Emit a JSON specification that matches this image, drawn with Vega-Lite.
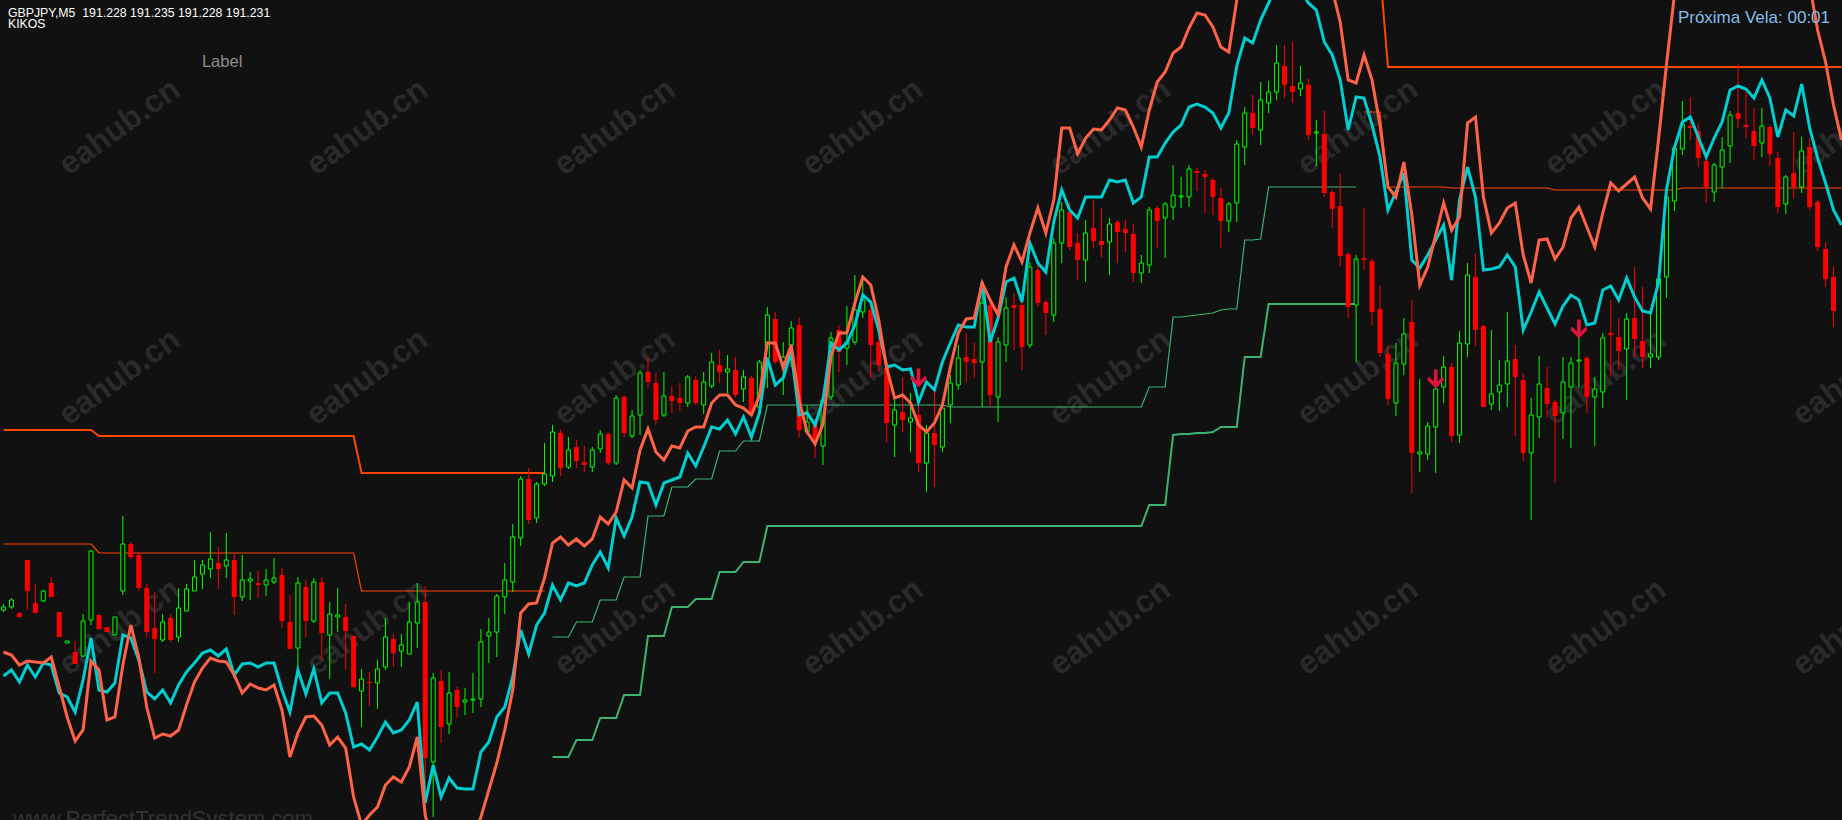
{
"$schema": "https://vega.github.io/schema/vega-lite/v6.json",
"width": 1842, "height": 820,
"autosize": {"type": "none"},
"padding": 0,
"background": "#111111",
"config": {"view": {"stroke": null}},
"datasets": {
"bars": [
{"i":-1,"o":191.390,"h":191.396,"l":191.388,"c":191.393,"cy":191.324,"sa":191.348,"a1":191.570,"b1":191.456},
{"i":0,"o":191.393,"h":191.402,"l":191.391,"c":191.400,"cy":191.330,"sa":191.345,"a1":191.570,"b1":191.456},
{"i":1,"o":191.387,"h":191.388,"l":191.382,"c":191.383,"cy":191.318,"sa":191.335,"a1":191.570,"b1":191.456},
{"i":2,"o":191.440,"h":191.440,"l":191.390,"c":191.409,"cy":191.335,"sa":191.339,"a1":191.570,"b1":191.456},
{"i":3,"o":191.397,"h":191.416,"l":191.387,"c":191.387,"cy":191.323,"sa":191.338,"a1":191.570,"b1":191.456},
{"i":4,"o":191.399,"h":191.410,"l":191.398,"c":191.409,"cy":191.337,"sa":191.337,"a1":191.570,"b1":191.456},
{"i":5,"o":191.417,"h":191.423,"l":191.403,"c":191.403,"cy":191.335,"sa":191.343,"a1":191.570,"b1":191.456},
{"i":6,"o":191.388,"h":191.388,"l":191.363,"c":191.363,"cy":191.307,"sa":191.313,"a1":191.570,"b1":191.456},
{"i":7,"o":191.357,"h":191.359,"l":191.357,"c":191.359,"cy":191.303,"sa":191.283,"a1":191.570,"b1":191.456},
{"i":8,"o":191.348,"h":191.359,"l":191.336,"c":191.336,"cy":191.288,"sa":191.259,"a1":191.570,"b1":191.456},
{"i":9,"o":191.344,"h":191.386,"l":191.343,"c":191.379,"cy":191.320,"sa":191.270,"a1":191.570,"b1":191.456},
{"i":10,"o":191.380,"h":191.450,"l":191.375,"c":191.449,"cy":191.362,"sa":191.339,"a1":191.570,"b1":191.456},
{"i":11,"o":191.385,"h":191.386,"l":191.370,"c":191.371,"cy":191.310,"sa":191.330,"a1":191.564,"b1":191.447},
{"i":12,"o":191.373,"h":191.373,"l":191.368,"c":191.368,"cy":191.308,"sa":191.280,"a1":191.564,"b1":191.447},
{"i":13,"o":191.365,"h":191.383,"l":191.365,"c":191.383,"cy":191.317,"sa":191.283,"a1":191.564,"b1":191.447},
{"i":14,"o":191.409,"h":191.484,"l":191.405,"c":191.456,"cy":191.365,"sa":191.335,"a1":191.564,"b1":191.447},
{"i":15,"o":191.456,"h":191.458,"l":191.441,"c":191.443,"cy":191.362,"sa":191.375,"a1":191.564,"b1":191.447},
{"i":16,"o":191.445,"h":191.448,"l":191.409,"c":191.412,"cy":191.340,"sa":191.343,"a1":191.564,"b1":191.447},
{"i":17,"o":191.412,"h":191.416,"l":191.363,"c":191.368,"cy":191.308,"sa":191.293,"a1":191.564,"b1":191.447},
{"i":18,"o":191.372,"h":191.408,"l":191.327,"c":191.361,"cy":191.301,"sa":191.262,"a1":191.564,"b1":191.447},
{"i":19,"o":191.360,"h":191.386,"l":191.358,"c":191.378,"cy":191.310,"sa":191.266,"a1":191.564,"b1":191.447},
{"i":20,"o":191.382,"h":191.386,"l":191.358,"c":191.360,"cy":191.297,"sa":191.264,"a1":191.564,"b1":191.447},
{"i":21,"o":191.363,"h":191.412,"l":191.358,"c":191.392,"cy":191.315,"sa":191.270,"a1":191.564,"b1":191.447},
{"i":22,"o":191.389,"h":191.416,"l":191.389,"c":191.411,"cy":191.328,"sa":191.295,"a1":191.564,"b1":191.447},
{"i":23,"o":191.409,"h":191.440,"l":191.409,"c":191.423,"cy":191.337,"sa":191.318,"a1":191.564,"b1":191.447},
{"i":24,"o":191.426,"h":191.440,"l":191.411,"c":191.435,"cy":191.347,"sa":191.332,"a1":191.564,"b1":191.447},
{"i":25,"o":191.431,"h":191.468,"l":191.422,"c":191.441,"cy":191.350,"sa":191.342,"a1":191.564,"b1":191.447},
{"i":26,"o":191.437,"h":191.453,"l":191.411,"c":191.431,"cy":191.344,"sa":191.339,"a1":191.564,"b1":191.447},
{"i":27,"o":191.434,"h":191.467,"l":191.422,"c":191.440,"cy":191.351,"sa":191.338,"a1":191.564,"b1":191.447},
{"i":28,"o":191.440,"h":191.446,"l":191.385,"c":191.403,"cy":191.325,"sa":191.325,"a1":191.564,"b1":191.447},
{"i":29,"o":191.403,"h":191.445,"l":191.399,"c":191.420,"cy":191.336,"sa":191.307,"a1":191.564,"b1":191.447},
{"i":30,"o":191.419,"h":191.428,"l":191.400,"c":191.421,"cy":191.337,"sa":191.316,"a1":191.564,"b1":191.447},
{"i":31,"o":191.417,"h":191.429,"l":191.402,"c":191.415,"cy":191.333,"sa":191.312,"a1":191.564,"b1":191.447},
{"i":32,"o":191.415,"h":191.431,"l":191.404,"c":191.420,"cy":191.337,"sa":191.310,"a1":191.564,"b1":191.447},
{"i":33,"o":191.418,"h":191.442,"l":191.416,"c":191.422,"cy":191.337,"sa":191.315,"a1":191.564,"b1":191.447},
{"i":34,"o":191.425,"h":191.432,"l":191.372,"c":191.379,"cy":191.310,"sa":191.290,"a1":191.564,"b1":191.447},
{"i":35,"o":191.378,"h":191.405,"l":191.351,"c":191.351,"cy":191.288,"sa":191.243,"a1":191.564,"b1":191.447},
{"i":36,"o":191.352,"h":191.423,"l":191.333,"c":191.417,"cy":191.330,"sa":191.267,"a1":191.564,"b1":191.447},
{"i":37,"o":191.413,"h":191.420,"l":191.363,"c":191.379,"cy":191.306,"sa":191.283,"a1":191.564,"b1":191.447},
{"i":38,"o":191.379,"h":191.422,"l":191.377,"c":191.418,"cy":191.331,"sa":191.284,"a1":191.564,"b1":191.447},
{"i":39,"o":191.418,"h":191.423,"l":191.340,"c":191.367,"cy":191.297,"sa":191.275,"a1":191.564,"b1":191.447},
{"i":40,"o":191.365,"h":191.398,"l":191.321,"c":191.386,"cy":191.307,"sa":191.255,"a1":191.564,"b1":191.447},
{"i":41,"o":191.383,"h":191.412,"l":191.368,"c":191.385,"cy":191.307,"sa":191.263,"a1":191.564,"b1":191.447},
{"i":42,"o":191.383,"h":191.396,"l":191.330,"c":191.369,"cy":191.287,"sa":191.252,"a1":191.564,"b1":191.447},
{"i":43,"o":191.364,"h":191.365,"l":191.312,"c":191.313,"cy":191.253,"sa":191.203,"a1":191.564,"b1":191.447},
{"i":44,"o":191.309,"h":191.331,"l":191.273,"c":191.321,"cy":191.256,"sa":191.175,"a1":191.527,"b1":191.409},
{"i":45,"o":191.318,"h":191.328,"l":191.294,"c":191.317,"cy":191.250,"sa":191.185,"a1":191.527,"b1":191.409},
{"i":46,"o":191.317,"h":191.340,"l":191.291,"c":191.331,"cy":191.263,"sa":191.193,"a1":191.527,"b1":191.409},
{"i":47,"o":191.333,"h":191.382,"l":191.330,"c":191.363,"cy":191.278,"sa":191.215,"a1":191.527,"b1":191.409},
{"i":48,"o":191.361,"h":191.366,"l":191.333,"c":191.347,"cy":191.267,"sa":191.223,"a1":191.527,"b1":191.409},
{"i":49,"o":191.349,"h":191.366,"l":191.333,"c":191.355,"cy":191.270,"sa":191.218,"a1":191.527,"b1":191.409},
{"i":50,"o":191.346,"h":191.398,"l":191.346,"c":191.378,"cy":191.280,"sa":191.233,"a1":191.527,"b1":191.409},
{"i":51,"o":191.377,"h":191.417,"l":191.352,"c":191.398,"cy":191.298,"sa":191.263,"a1":191.527,"b1":191.409},
{"i":52,"o":191.398,"h":191.414,"l":191.203,"c":191.242,"cy":191.197,"sa":191.185,"a1":191.527,"b1":191.409},
{"i":53,"o":191.238,"h":191.327,"l":191.183,"c":191.322,"cy":191.235,"sa":191.155,"a1":191.527,"b1":191.409},
{"i":54,"o":191.319,"h":191.330,"l":191.257,"c":191.273,"cy":191.203,"sa":191.120,"a1":191.527,"b1":191.409},
{"i":55,"o":191.276,"h":191.328,"l":191.266,"c":191.307,"cy":191.222,"sa":191.110,"a1":191.527,"b1":191.409},
{"i":56,"o":191.310,"h":191.313,"l":191.283,"c":191.293,"cy":191.212,"sa":191.120,"a1":191.527,"b1":191.409},
{"i":57,"o":191.298,"h":191.312,"l":191.285,"c":191.300,"cy":191.211,"sa":191.135,"a1":191.527,"b1":191.409},
{"i":58,"o":191.300,"h":191.327,"l":191.287,"c":191.301,"cy":191.211,"sa":191.160,"a1":191.527,"b1":191.409},
{"i":59,"o":191.301,"h":191.371,"l":191.293,"c":191.358,"cy":191.248,"sa":191.183,"a1":191.527,"b1":191.409},
{"i":60,"o":191.364,"h":191.382,"l":191.337,"c":191.368,"cy":191.258,"sa":191.210,"a1":191.527,"b1":191.409},
{"i":61,"o":191.368,"h":191.406,"l":191.343,"c":191.404,"cy":191.283,"sa":191.237,"a1":191.527,"b1":191.409},
{"i":62,"o":191.403,"h":191.437,"l":191.386,"c":191.420,"cy":191.293,"sa":191.270,"a1":191.527,"b1":191.409},
{"i":63,"o":191.418,"h":191.476,"l":191.408,"c":191.463,"cy":191.323,"sa":191.310,"a1":191.527,"b1":191.409},
{"i":64,"o":191.462,"h":191.524,"l":191.454,"c":191.521,"cy":191.370,"sa":191.387,"a1":191.527,"b1":191.409},
{"i":65,"o":191.521,"h":191.532,"l":191.476,"c":191.480,"cy":191.346,"sa":191.396,"a1":191.527,"b1":191.409},
{"i":66,"o":191.482,"h":191.518,"l":191.477,"c":191.516,"cy":191.375,"sa":191.397,"a1":191.527,"b1":191.409},
{"i":67,"o":191.516,"h":191.557,"l":191.514,"c":191.526,"cy":191.387,"sa":191.422,"a1":191.527,"b1":191.409},
{"i":68,"o":191.524,"h":191.575,"l":191.518,"c":191.568,"cy":191.415,"sa":191.457,"gt":191.363,"gk":191.243},
{"i":69,"o":191.567,"h":191.571,"l":191.524,"c":191.532,"cy":191.400,"sa":191.463,"gt":191.363,"gk":191.243},
{"i":70,"o":191.533,"h":191.563,"l":191.531,"c":191.550,"cy":191.417,"sa":191.455,"gt":191.363,"gk":191.243},
{"i":71,"o":191.553,"h":191.560,"l":191.532,"c":191.539,"cy":191.414,"sa":191.461,"gt":191.378,"gk":191.260},
{"i":72,"o":191.538,"h":191.554,"l":191.528,"c":191.535,"cy":191.417,"sa":191.454,"gt":191.378,"gk":191.260},
{"i":73,"o":191.533,"h":191.553,"l":191.528,"c":191.550,"cy":191.435,"sa":191.461,"gt":191.378,"gk":191.260},
{"i":74,"o":191.551,"h":191.570,"l":191.547,"c":191.566,"cy":191.448,"sa":191.483,"gt":191.400,"gk":191.282},
{"i":75,"o":191.566,"h":191.568,"l":191.535,"c":191.537,"cy":191.432,"sa":191.476,"gt":191.400,"gk":191.282},
{"i":76,"o":191.537,"h":191.605,"l":191.535,"c":191.602,"cy":191.482,"sa":191.488,"gt":191.400,"gk":191.282},
{"i":77,"o":191.603,"h":191.605,"l":191.563,"c":191.567,"cy":191.464,"sa":191.520,"gt":191.423,"gk":191.305},
{"i":78,"o":191.564,"h":191.590,"l":191.562,"c":191.584,"cy":191.483,"sa":191.512,"gt":191.423,"gk":191.305},
{"i":79,"o":191.585,"h":191.630,"l":191.565,"c":191.627,"cy":191.518,"sa":191.550,"gt":191.423,"gk":191.305},
{"i":80,"o":191.628,"h":191.643,"l":191.612,"c":191.618,"cy":191.517,"sa":191.571,"gt":191.484,"gk":191.364},
{"i":81,"o":191.617,"h":191.627,"l":191.575,"c":191.580,"cy":191.495,"sa":191.548,"gt":191.484,"gk":191.364},
{"i":82,"o":191.585,"h":191.628,"l":191.583,"c":191.604,"cy":191.517,"sa":191.540,"gt":191.484,"gk":191.364},
{"i":83,"o":191.604,"h":191.614,"l":191.587,"c":191.599,"cy":191.520,"sa":191.554,"gt":191.513,"gk":191.393},
{"i":84,"o":191.602,"h":191.617,"l":191.589,"c":191.597,"cy":191.523,"sa":191.552,"gt":191.513,"gk":191.393},
{"i":85,"o":191.597,"h":191.625,"l":191.593,"c":191.623,"cy":191.547,"sa":191.569,"gt":191.513,"gk":191.393},
{"i":86,"o":191.620,"h":191.624,"l":191.595,"c":191.597,"cy":191.534,"sa":191.573,"gt":191.521,"gk":191.401},
{"i":87,"o":191.595,"h":191.628,"l":191.586,"c":191.618,"cy":191.553,"sa":191.573,"gt":191.521,"gk":191.401},
{"i":88,"o":191.614,"h":191.647,"l":191.612,"c":191.638,"cy":191.573,"sa":191.597,"gt":191.521,"gk":191.401},
{"i":89,"o":191.635,"h":191.650,"l":191.617,"c":191.628,"cy":191.571,"sa":191.605,"gt":191.549,"gk":191.428},
{"i":90,"o":191.628,"h":191.645,"l":191.607,"c":191.631,"cy":191.580,"sa":191.605,"gt":191.549,"gk":191.428},
{"i":91,"o":191.630,"h":191.643,"l":191.603,"c":191.605,"cy":191.566,"sa":191.595,"gt":191.549,"gk":191.428},
{"i":92,"o":191.611,"h":191.630,"l":191.598,"c":191.623,"cy":191.583,"sa":191.592,"gt":191.559,"gk":191.438},
{"i":93,"o":191.622,"h":191.624,"l":191.586,"c":191.588,"cy":191.563,"sa":191.585,"gt":191.559,"gk":191.438},
{"i":94,"o":191.593,"h":191.640,"l":191.590,"c":191.638,"cy":191.587,"sa":191.604,"gt":191.559,"gk":191.438},
{"i":95,"o":191.642,"h":191.693,"l":191.612,"c":191.685,"cy":191.642,"sa":191.657,"gt":191.595,"gk":191.474},
{"i":96,"o":191.681,"h":191.688,"l":191.636,"c":191.638,"cy":191.615,"sa":191.657,"gt":191.595,"gk":191.474},
{"i":97,"o":191.638,"h":191.658,"l":191.605,"c":191.643,"cy":191.622,"sa":191.632,"gt":191.595,"gk":191.474},
{"i":98,"o":191.655,"h":191.679,"l":191.633,"c":191.672,"cy":191.648,"sa":191.655,"gt":191.595,"gk":191.474},
{"i":99,"o":191.675,"h":191.683,"l":191.563,"c":191.570,"cy":191.585,"sa":191.600,"gt":191.595,"gk":191.474},
{"i":100,"o":191.568,"h":191.595,"l":191.565,"c":191.578,"cy":191.587,"sa":191.568,"gt":191.595,"gk":191.474},
{"i":101,"o":191.578,"h":191.582,"l":191.542,"c":191.560,"cy":191.575,"sa":191.556,"gt":191.595,"gk":191.474},
{"i":102,"o":191.554,"h":191.605,"l":191.535,"c":191.600,"cy":191.600,"sa":191.576,"gt":191.595,"gk":191.474},
{"i":103,"o":191.603,"h":191.668,"l":191.600,"c":191.662,"cy":191.657,"sa":191.644,"gt":191.595,"gk":191.474},
{"i":104,"o":191.670,"h":191.675,"l":191.628,"c":191.648,"cy":191.650,"sa":191.667,"gt":191.595,"gk":191.474},
{"i":105,"o":191.652,"h":191.694,"l":191.635,"c":191.658,"cy":191.657,"sa":191.667,"gt":191.595,"gk":191.474},
{"i":106,"o":191.658,"h":191.725,"l":191.655,"c":191.690,"cy":191.675,"sa":191.697,"gt":191.595,"gk":191.474},
{"i":107,"o":191.688,"h":191.722,"l":191.682,"c":191.700,"cy":191.705,"sa":191.723,"gt":191.595,"gk":191.474},
{"i":108,"o":191.690,"h":191.700,"l":191.622,"c":191.655,"cy":191.698,"sa":191.715,"gt":191.595,"gk":191.474},
{"i":109,"o":191.658,"h":191.665,"l":191.628,"c":191.635,"cy":191.670,"sa":191.680,"gt":191.595,"gk":191.474},
{"i":110,"o":191.632,"h":191.638,"l":191.557,"c":191.577,"cy":191.633,"sa":191.632,"gt":191.595,"gk":191.474},
{"i":111,"o":191.575,"h":191.600,"l":191.543,"c":191.590,"cy":191.635,"sa":191.602,"gt":191.595,"gk":191.474},
{"i":112,"o":191.588,"h":191.623,"l":191.568,"c":191.580,"cy":191.630,"sa":191.605,"gt":191.595,"gk":191.474},
{"i":113,"o":191.578,"h":191.607,"l":191.548,"c":191.582,"cy":191.631,"sa":191.597,"gt":191.595,"gk":191.474},
{"i":114,"o":191.585,"h":191.595,"l":191.528,"c":191.537,"cy":191.598,"sa":191.575,"gt":191.595,"gk":191.474},
{"i":115,"o":191.537,"h":191.575,"l":191.508,"c":191.567,"cy":191.618,"sa":191.568,"gt":191.595,"gk":191.474},
{"i":116,"o":191.567,"h":191.608,"l":191.513,"c":191.555,"cy":191.610,"sa":191.577,"gt":191.595,"gk":191.474},
{"i":117,"o":191.553,"h":191.600,"l":191.548,"c":191.592,"cy":191.638,"sa":191.595,"gt":191.595,"gk":191.474},
{"i":118,"o":191.595,"h":191.625,"l":191.577,"c":191.617,"cy":191.657,"sa":191.633,"gt":191.593,"gk":191.474},
{"i":119,"o":191.615,"h":191.655,"l":191.610,"c":191.642,"cy":191.675,"sa":191.667,"gt":191.593,"gk":191.474},
{"i":120,"o":191.643,"h":191.667,"l":191.618,"c":191.638,"cy":191.673,"sa":191.681,"gt":191.593,"gk":191.474},
{"i":121,"o":191.641,"h":191.657,"l":191.622,"c":191.637,"cy":191.673,"sa":191.682,"gt":191.593,"gk":191.474},
{"i":122,"o":191.638,"h":191.718,"l":191.593,"c":191.697,"cy":191.718,"sa":191.717,"gt":191.593,"gk":191.474},
{"i":123,"o":191.695,"h":191.700,"l":191.593,"c":191.605,"cy":191.658,"sa":191.700,"gt":191.593,"gk":191.474},
{"i":124,"o":191.603,"h":191.663,"l":191.578,"c":191.658,"cy":191.682,"sa":191.685,"gt":191.593,"gk":191.474},
{"i":125,"o":191.655,"h":191.703,"l":191.638,"c":191.692,"cy":191.718,"sa":191.733,"gt":191.593,"gk":191.474},
{"i":126,"o":191.695,"h":191.707,"l":191.650,"c":191.692,"cy":191.722,"sa":191.755,"gt":191.593,"gk":191.474},
{"i":127,"o":191.695,"h":191.700,"l":191.630,"c":191.653,"cy":191.698,"sa":191.738,"gt":191.593,"gk":191.474},
{"i":128,"o":191.655,"h":191.738,"l":191.652,"c":191.733,"cy":191.757,"sa":191.767,"gt":191.593,"gk":191.474},
{"i":129,"o":191.730,"h":191.735,"l":191.693,"c":191.697,"cy":191.737,"sa":191.792,"gt":191.593,"gk":191.474},
{"i":130,"o":191.698,"h":191.700,"l":191.665,"c":191.687,"cy":191.728,"sa":191.767,"gt":191.593,"gk":191.474},
{"i":131,"o":191.685,"h":191.762,"l":191.678,"c":191.757,"cy":191.778,"sa":191.800,"gt":191.593,"gk":191.474},
{"i":132,"o":191.757,"h":191.798,"l":191.737,"c":191.790,"cy":191.810,"sa":191.872,"gt":191.593,"gk":191.474},
{"i":133,"o":191.788,"h":191.798,"l":191.750,"c":191.753,"cy":191.790,"sa":191.872,"gt":191.593,"gk":191.474},
{"i":134,"o":191.757,"h":191.767,"l":191.720,"c":191.740,"cy":191.782,"sa":191.846,"gt":191.593,"gk":191.474},
{"i":135,"o":191.740,"h":191.780,"l":191.718,"c":191.767,"cy":191.803,"sa":191.862,"gt":191.593,"gk":191.474},
{"i":136,"o":191.772,"h":191.800,"l":191.752,"c":191.759,"cy":191.803,"sa":191.871,"gt":191.593,"gk":191.474},
{"i":137,"o":191.759,"h":191.792,"l":191.743,"c":191.755,"cy":191.803,"sa":191.870,"gt":191.593,"gk":191.474},
{"i":138,"o":191.758,"h":191.782,"l":191.725,"c":191.776,"cy":191.820,"sa":191.880,"gt":191.593,"gk":191.474},
{"i":139,"o":191.778,"h":191.780,"l":191.737,"c":191.768,"cy":191.818,"sa":191.892,"gt":191.593,"gk":191.474},
{"i":140,"o":191.771,"h":191.780,"l":191.748,"c":191.767,"cy":191.820,"sa":191.890,"gt":191.593,"gk":191.474},
{"i":141,"o":191.766,"h":191.776,"l":191.718,"c":191.727,"cy":191.797,"sa":191.873,"gt":191.593,"gk":191.474},
{"i":142,"o":191.727,"h":191.745,"l":191.717,"c":191.737,"cy":191.803,"sa":191.853,"gt":191.593,"gk":191.474},
{"i":143,"o":191.735,"h":191.793,"l":191.727,"c":191.790,"cy":191.843,"sa":191.890,"gt":191.613,"gk":191.495},
{"i":144,"o":191.792,"h":191.794,"l":191.752,"c":191.779,"cy":191.843,"sa":191.918,"gt":191.613,"gk":191.495},
{"i":145,"o":191.782,"h":191.798,"l":191.742,"c":191.796,"cy":191.857,"sa":191.928,"gt":191.613,"gk":191.495},
{"i":146,"o":191.793,"h":191.835,"l":191.780,"c":191.805,"cy":191.868,"sa":191.947,"gt":191.683,"gk":191.565},
{"i":147,"o":191.803,"h":191.823,"l":191.792,"c":191.804,"cy":191.875,"sa":191.953,"gt":191.683,"gk":191.566},
{"i":148,"o":191.803,"h":191.835,"l":191.793,"c":191.831,"cy":191.893,"sa":191.972,"gt":191.684,"gk":191.566},
{"i":149,"o":191.829,"h":191.832,"l":191.809,"c":191.827,"cy":191.896,"sa":191.987,"gt":191.685,"gk":191.567},
{"i":150,"o":191.826,"h":191.830,"l":191.787,"c":191.823,"cy":191.893,"sa":191.985,"gt":191.686,"gk":191.567},
{"i":151,"o":191.820,"h":191.822,"l":191.785,"c":191.803,"cy":191.887,"sa":191.973,"gt":191.687,"gk":191.568},
{"i":152,"o":191.802,"h":191.812,"l":191.752,"c":191.779,"cy":191.872,"sa":191.953,"gt":191.690,"gk":191.573},
{"i":153,"o":191.779,"h":191.798,"l":191.768,"c":191.796,"cy":191.887,"sa":191.948,"gt":191.691,"gk":191.573},
{"i":154,"o":191.797,"h":191.860,"l":191.778,"c":191.856,"cy":191.934,"sa":192.000,"gt":191.691,"gk":191.573},
{"i":155,"o":191.853,"h":191.893,"l":191.835,"c":191.887,"cy":191.962,"sa":192.045,"gt":191.760,"gk":191.643},
{"i":156,"o":191.887,"h":191.905,"l":191.865,"c":191.872,"cy":191.957,"sa":192.080,"gt":191.760,"gk":191.643},
{"i":157,"o":191.870,"h":191.918,"l":191.855,"c":191.900,"cy":191.980,"sa":192.100,"gt":191.761,"gk":191.643},
{"i":158,"o":191.897,"h":191.919,"l":191.887,"c":191.908,"cy":191.997,"sa":192.110,"gt":191.813,"gk":191.696},
{"i":159,"o":191.908,"h":191.955,"l":191.900,"c":191.937,"cy":192.015,"sa":192.110,"gt":191.813,"gk":191.696},
{"i":160,"o":191.934,"h":191.955,"l":191.902,"c":191.915,"cy":192.025,"sa":192.100,"gt":191.813,"gk":191.696},
{"i":161,"o":191.914,"h":191.958,"l":191.897,"c":191.908,"cy":192.020,"sa":192.090,"gt":191.813,"gk":191.696},
{"i":162,"o":191.911,"h":191.934,"l":191.904,"c":191.917,"cy":192.010,"sa":192.070,"gt":191.813,"gk":191.696},
{"i":163,"o":191.915,"h":191.921,"l":191.860,"c":191.865,"cy":191.997,"sa":192.050,"gt":191.813,"gk":191.696},
{"i":164,"o":191.867,"h":191.880,"l":191.834,"c":191.868,"cy":191.990,"sa":192.030,"gt":191.813,"gk":191.696},
{"i":165,"o":191.866,"h":191.889,"l":191.803,"c":191.807,"cy":191.958,"sa":192.020,"gt":191.813,"gk":191.696},
{"i":166,"o":191.808,"h":191.810,"l":191.772,"c":191.791,"cy":191.945,"sa":192.010,"gt":191.813,"gk":191.696},
{"i":167,"o":191.794,"h":191.827,"l":191.733,"c":191.744,"cy":191.920,"sa":191.978,"gt":191.813,"gk":191.696},
{"i":168,"o":191.746,"h":191.748,"l":191.682,"c":191.693,"cy":191.870,"sa":191.920,"gt":191.813,"gk":191.696},
{"i":169,"o":191.695,"h":191.745,"l":191.638,"c":191.741,"cy":191.903,"sa":191.917,"gt":191.813,"gk":191.696},
{"i":170,"o":191.742,"h":191.792,"l":191.730,"c":191.740,"cy":191.902,"sa":191.945,"a2":192.030,"b2":191.888},
{"i":171,"o":191.739,"h":191.741,"l":191.675,"c":191.688,"cy":191.875,"sa":191.920,"a2":192.030,"b2":191.888},
{"i":172,"o":191.691,"h":191.715,"l":191.643,"c":191.647,"cy":191.843,"sa":191.875,"a2":192.030,"b2":191.888},
{"i":173,"o":191.646,"h":191.654,"l":191.595,"c":191.601,"cy":191.790,"sa":191.813,"a2":191.933,"b2":191.813},
{"i":174,"o":191.597,"h":191.657,"l":191.584,"c":191.637,"cy":191.808,"sa":191.803,"a2":191.933,"b2":191.813},
{"i":175,"o":191.636,"h":191.682,"l":191.625,"c":191.666,"cy":191.827,"sa":191.838,"a2":191.933,"b2":191.813},
{"i":176,"o":191.678,"h":191.700,"l":191.507,"c":191.547,"cy":191.740,"sa":191.785,"a2":191.933,"b2":191.813},
{"i":177,"o":191.546,"h":191.621,"l":191.528,"c":191.548,"cy":191.732,"sa":191.715,"a2":191.933,"b2":191.813},
{"i":178,"o":191.546,"h":191.578,"l":191.540,"c":191.574,"cy":191.745,"sa":191.733,"a2":191.933,"b2":191.813},
{"i":179,"o":191.573,"h":191.612,"l":191.527,"c":191.611,"cy":191.760,"sa":191.765,"a2":191.933,"b2":191.813},
{"i":180,"o":191.613,"h":191.644,"l":191.597,"c":191.633,"cy":191.775,"sa":191.797,"a2":191.933,"b2":191.813},
{"i":181,"o":191.633,"h":191.637,"l":191.558,"c":191.564,"cy":191.720,"sa":191.770,"a2":191.933,"b2":191.812},
{"i":182,"o":191.565,"h":191.669,"l":191.557,"c":191.657,"cy":191.800,"sa":191.783,"a2":191.933,"b2":191.812},
{"i":183,"o":191.656,"h":191.737,"l":191.643,"c":191.725,"cy":191.833,"sa":191.877,"a2":191.933,"b2":191.812},
{"i":184,"o":191.723,"h":191.746,"l":191.654,"c":191.670,"cy":191.803,"sa":191.883,"a2":191.933,"b2":191.812},
{"i":185,"o":191.674,"h":191.675,"l":191.593,"c":191.593,"cy":191.730,"sa":191.803,"a2":191.933,"b2":191.812},
{"i":186,"o":191.596,"h":191.670,"l":191.590,"c":191.606,"cy":191.731,"sa":191.767,"a2":191.933,"b2":191.812},
{"i":187,"o":191.608,"h":191.640,"l":191.589,"c":191.615,"cy":191.733,"sa":191.777,"a2":191.933,"b2":191.812},
{"i":188,"o":191.616,"h":191.688,"l":191.593,"c":191.639,"cy":191.745,"sa":191.792,"a2":191.933,"b2":191.812},
{"i":189,"o":191.641,"h":191.655,"l":191.564,"c":191.623,"cy":191.733,"sa":191.797,"a2":191.933,"b2":191.812},
{"i":190,"o":191.620,"h":191.627,"l":191.539,"c":191.547,"cy":191.670,"sa":191.745,"a2":191.933,"b2":191.812},
{"i":191,"o":191.547,"h":191.602,"l":191.480,"c":191.585,"cy":191.688,"sa":191.717,"a2":191.933,"b2":191.812},
{"i":192,"o":191.583,"h":191.644,"l":191.562,"c":191.616,"cy":191.708,"sa":191.760,"a2":191.933,"b2":191.812},
{"i":193,"o":191.612,"h":191.633,"l":191.583,"c":191.596,"cy":191.692,"sa":191.761,"a2":191.933,"b2":191.812},
{"i":194,"o":191.598,"h":191.600,"l":191.517,"c":191.584,"cy":191.676,"sa":191.741,"a2":191.933,"b2":191.810},
{"i":195,"o":191.587,"h":191.643,"l":191.561,"c":191.618,"cy":191.694,"sa":191.753,"a2":191.933,"b2":191.810},
{"i":196,"o":191.613,"h":191.643,"l":191.552,"c":191.637,"cy":191.705,"sa":191.782,"a2":191.933,"b2":191.810},
{"i":197,"o":191.639,"h":191.663,"l":191.612,"c":191.640,"cy":191.700,"sa":191.793,"a2":191.933,"b2":191.810},
{"i":198,"o":191.642,"h":191.644,"l":191.587,"c":191.603,"cy":191.675,"sa":191.773,"a2":191.933,"b2":191.810},
{"i":199,"o":191.603,"h":191.623,"l":191.554,"c":191.611,"cy":191.677,"sa":191.753,"a2":191.933,"b2":191.810},
{"i":200,"o":191.608,"h":191.667,"l":191.592,"c":191.662,"cy":191.710,"sa":191.787,"a2":191.933,"b2":191.810},
{"i":201,"o":191.667,"h":191.700,"l":191.623,"c":191.665,"cy":191.714,"sa":191.817,"a2":191.933,"b2":191.810},
{"i":202,"o":191.663,"h":191.682,"l":191.630,"c":191.649,"cy":191.700,"sa":191.809,"a2":191.933,"b2":191.810},
{"i":203,"o":191.651,"h":191.687,"l":191.600,"c":191.681,"cy":191.722,"sa":191.816,"a2":191.933,"b2":191.810},
{"i":204,"o":191.682,"h":191.733,"l":191.643,"c":191.661,"cy":191.703,"sa":191.823,"a2":191.933,"b2":191.810},
{"i":205,"o":191.659,"h":191.713,"l":191.632,"c":191.643,"cy":191.689,"sa":191.802,"a2":191.933,"b2":191.810},
{"i":206,"o":191.643,"h":191.687,"l":191.632,"c":191.646,"cy":191.687,"sa":191.791,"a2":191.933,"b2":191.810},
{"i":207,"o":191.643,"h":191.725,"l":191.640,"c":191.721,"cy":191.717,"sa":191.860,"a2":191.933,"b2":191.810},
{"i":208,"o":191.723,"h":191.805,"l":191.702,"c":191.803,"cy":191.810,"sa":191.935,"a2":191.933,"b2":191.810},
{"i":209,"o":191.799,"h":191.855,"l":191.789,"c":191.852,"cy":191.852,"sa":192.005,"a2":191.933,"b2":191.810},
{"i":210,"o":191.851,"h":191.899,"l":191.845,"c":191.876,"cy":191.878,"sa":192.060,"a2":191.933,"b2":191.812},
{"i":211,"o":191.874,"h":191.903,"l":191.860,"c":191.872,"cy":191.883,"sa":192.100,"a2":191.933,"b2":191.812},
{"i":212,"o":191.869,"h":191.877,"l":191.833,"c":191.842,"cy":191.863,"sa":192.130,"a2":191.933,"b2":191.812},
{"i":213,"o":191.839,"h":191.840,"l":191.797,"c":191.813,"cy":191.843,"sa":192.150,"a2":191.933,"b2":191.812},
{"i":214,"o":191.808,"h":191.837,"l":191.798,"c":191.835,"cy":191.862,"sa":192.160,"a2":191.933,"b2":191.812},
{"i":215,"o":191.833,"h":191.863,"l":191.812,"c":191.850,"cy":191.878,"sa":192.170,"a2":191.933,"b2":191.812},
{"i":216,"o":191.854,"h":191.889,"l":191.837,"c":191.885,"cy":191.910,"sa":192.170,"a2":191.933,"b2":191.812},
{"i":217,"o":191.887,"h":191.936,"l":191.872,"c":191.881,"cy":191.914,"sa":192.165,"a2":191.933,"b2":191.812},
{"i":218,"o":191.875,"h":191.908,"l":191.862,"c":191.873,"cy":191.911,"sa":192.160,"a2":191.933,"b2":191.812},
{"i":219,"o":191.869,"h":191.892,"l":191.840,"c":191.854,"cy":191.902,"sa":192.150,"a2":191.933,"b2":191.812},
{"i":220,"o":191.857,"h":191.892,"l":191.843,"c":191.874,"cy":191.920,"sa":192.140,"a2":191.933,"b2":191.812},
{"i":221,"o":191.873,"h":191.875,"l":191.834,"c":191.846,"cy":191.902,"sa":192.125,"a2":191.933,"b2":191.812},
{"i":222,"o":191.842,"h":191.848,"l":191.787,"c":191.793,"cy":191.863,"sa":192.110,"a2":191.933,"b2":191.812},
{"i":223,"o":191.796,"h":191.825,"l":191.786,"c":191.823,"cy":191.890,"sa":192.090,"a2":191.933,"b2":191.812},
{"i":224,"o":191.827,"h":191.868,"l":191.801,"c":191.813,"cy":191.884,"sa":192.070,"a2":191.933,"b2":191.812},
{"i":225,"o":191.813,"h":191.863,"l":191.807,"c":191.849,"cy":191.916,"sa":192.045,"a2":191.933,"b2":191.812},
{"i":226,"o":191.853,"h":191.862,"l":191.790,"c":191.793,"cy":191.872,"sa":192.015,"a2":191.933,"b2":191.812},
{"i":227,"o":191.798,"h":191.800,"l":191.749,"c":191.753,"cy":191.842,"sa":191.970,"a2":191.933,"b2":191.812},
{"i":228,"o":191.751,"h":191.758,"l":191.713,"c":191.721,"cy":191.817,"sa":191.938,"a2":191.933,"b2":191.812},
{"i":229,"o":191.723,"h":191.734,"l":191.673,"c":191.689,"cy":191.790,"sa":191.895,"a2":191.933,"b2":191.812},
{"i":230,"cy":191.775,"sa":191.860,"a2":191.933,"b2":191.812}
],
"wm": [
{"t":"eahub.cn","wx":13.5625,"wp":191.873},{"t":"eahub.cn","wx":44.6875,"wp":191.873},{"t":"eahub.cn","wx":75.8125,"wp":191.873},{"t":"eahub.cn","wx":106.9375,"wp":191.873},{"t":"eahub.cn","wx":138.0625,"wp":191.873},{"t":"eahub.cn","wx":169.1875,"wp":191.873},{"t":"eahub.cn","wx":200.3125,"wp":191.873},{"t":"eahub.cn","wx":231.4375,"wp":191.873},
{"t":"eahub.cn","wx":13.5625,"wp":191.623},{"t":"eahub.cn","wx":44.6875,"wp":191.623},{"t":"eahub.cn","wx":75.8125,"wp":191.623},{"t":"eahub.cn","wx":106.9375,"wp":191.623},{"t":"eahub.cn","wx":138.0625,"wp":191.623},{"t":"eahub.cn","wx":169.1875,"wp":191.623},{"t":"eahub.cn","wx":200.3125,"wp":191.623},{"t":"eahub.cn","wx":231.4375,"wp":191.623},
{"t":"eahub.cn","wx":13.5625,"wp":191.373},{"t":"eahub.cn","wx":44.6875,"wp":191.373},{"t":"eahub.cn","wx":75.8125,"wp":191.373},{"t":"eahub.cn","wx":106.9375,"wp":191.373},{"t":"eahub.cn","wx":138.0625,"wp":191.373},{"t":"eahub.cn","wx":169.1875,"wp":191.373},{"t":"eahub.cn","wx":200.3125,"wp":191.373},{"t":"eahub.cn","wx":231.4375,"wp":191.373}
],
"arrows": [{"i":114,"p":191.622},{"i":179,"p":191.621},{"i":197,"p":191.671}]
},
"layer": [
{"data": {"name": "wm"}, "mark": {"type": "text", "angle": 324, "font": "Liberation Sans", "fontWeight": "bold", "fontSize": 32, "color": "#2a2a2a", "align": "center", "baseline": "middle"},
 "encoding": {"x": {"field": "wx", "type": "quantitative", "scale": {"domain": [-0.8125, 229.4375], "nice": false, "zero": false}, "axis": null},
  "y": {"field": "wp", "type": "quantitative", "scale": {"domain": [191.18, 192.0], "nice": false, "zero": false}, "axis": null},
  "text": {"field": "t"}}},
{"data": {"name": "bars"}, "transform": [{"filter": {"field": "a1", "valid": true}}], "mark": {"type": "line", "color": "#ff4500", "strokeWidth": 2, "clip": true},
 "encoding": {"x": {"field": "i", "type": "quantitative", "scale": {"domain": [-0.8125, 229.4375], "nice": false, "zero": false}, "axis": null},
  "y": {"field": "a1", "type": "quantitative", "scale": {"domain": [191.18, 192.0], "nice": false, "zero": false}, "axis": null}}},
{"data": {"name": "bars"}, "transform": [{"filter": {"field": "a2", "valid": true}}], "mark": {"type": "line", "color": "#ff4500", "strokeWidth": 2, "clip": true},
 "encoding": {"x": {"field": "i", "type": "quantitative", "scale": {"domain": [-0.8125, 229.4375], "nice": false, "zero": false}, "axis": null},
  "y": {"field": "a2", "type": "quantitative", "scale": {"domain": [191.18, 192.0], "nice": false, "zero": false}, "axis": null}}},
{"data": {"name": "bars"}, "transform": [{"filter": {"field": "b1", "valid": true}}], "mark": {"type": "line", "color": "#ff4500", "strokeWidth": 1.2, "clip": true},
 "encoding": {"x": {"field": "i", "type": "quantitative", "scale": {"domain": [-0.8125, 229.4375], "nice": false, "zero": false}, "axis": null},
  "y": {"field": "b1", "type": "quantitative", "scale": {"domain": [191.18, 192.0], "nice": false, "zero": false}, "axis": null}}},
{"data": {"name": "bars"}, "transform": [{"filter": {"field": "b2", "valid": true}}], "mark": {"type": "line", "color": "#ff4500", "strokeWidth": 1.2, "clip": true},
 "encoding": {"x": {"field": "i", "type": "quantitative", "scale": {"domain": [-0.8125, 229.4375], "nice": false, "zero": false}, "axis": null},
  "y": {"field": "b2", "type": "quantitative", "scale": {"domain": [191.18, 192.0], "nice": false, "zero": false}, "axis": null}}},
{"data": {"name": "bars"}, "transform": [{"filter": {"field": "gt", "valid": true}}], "mark": {"type": "line", "color": "#3cb371", "strokeWidth": 1.2, "clip": true},
 "encoding": {"x": {"field": "i", "type": "quantitative", "scale": {"domain": [-0.8125, 229.4375], "nice": false, "zero": false}, "axis": null},
  "y": {"field": "gt", "type": "quantitative", "scale": {"domain": [191.18, 192.0], "nice": false, "zero": false}, "axis": null}}},
{"data": {"name": "bars"}, "transform": [{"filter": {"field": "gk", "valid": true}}], "mark": {"type": "line", "color": "#3cb371", "strokeWidth": 2, "clip": true},
 "encoding": {"x": {"field": "i", "type": "quantitative", "scale": {"domain": [-0.8125, 229.4375], "nice": false, "zero": false}, "axis": null},
  "y": {"field": "gk", "type": "quantitative", "scale": {"domain": [191.18, 192.0], "nice": false, "zero": false}, "axis": null}}},
{"data": {"name": "bars"}, "transform": [{"filter": "isValid(datum.o) && datum.c >= datum.o"}], "mark": {"type": "rule", "color": "#00ff00", "strokeWidth": 1},
 "encoding": {"x": {"field": "i", "type": "quantitative", "scale": {"domain": [-0.8125, 229.4375], "nice": false, "zero": false}, "axis": null},
  "y": {"field": "l", "type": "quantitative", "scale": {"domain": [191.18, 192.0], "nice": false, "zero": false}, "axis": null},
  "y2": {"field": "h"}}},
{"data": {"name": "bars"}, "transform": [{"filter": "isValid(datum.o) && datum.c < datum.o"}], "mark": {"type": "rule", "color": "#ff0000", "strokeWidth": 1},
 "encoding": {"x": {"field": "i", "type": "quantitative", "scale": {"domain": [-0.8125, 229.4375], "nice": false, "zero": false}, "axis": null},
  "y": {"field": "l", "type": "quantitative", "scale": {"domain": [191.18, 192.0], "nice": false, "zero": false}, "axis": null},
  "y2": {"field": "h"}}},
{"data": {"name": "bars"}, "transform": [{"filter": "isValid(datum.o) && datum.c < datum.o"}], "mark": {"type": "bar", "width": 5, "fill": "#ff0000", "stroke": null},
 "encoding": {"x": {"field": "i", "type": "quantitative", "scale": {"domain": [-0.8125, 229.4375], "nice": false, "zero": false}, "axis": null},
  "y": {"field": "o", "type": "quantitative", "scale": {"domain": [191.18, 192.0], "nice": false, "zero": false}, "axis": null},
  "y2": {"field": "c"}}},
{"data": {"name": "bars"}, "transform": [{"filter": "isValid(datum.o) && datum.c >= datum.o"}], "mark": {"type": "bar", "width": 4, "fill": "#111111", "stroke": "#00ff00", "strokeWidth": 1},
 "encoding": {"x": {"field": "i", "type": "quantitative", "scale": {"domain": [-0.8125, 229.4375], "nice": false, "zero": false}, "axis": null},
  "y": {"field": "o", "type": "quantitative", "scale": {"domain": [191.18, 192.0], "nice": false, "zero": false}, "axis": null},
  "y2": {"field": "c"}}},
{"data": {"name": "bars"}, "mark": {"type": "line", "color": "#00ced1", "strokeWidth": 3, "clip": true},
 "encoding": {"x": {"field": "i", "type": "quantitative", "scale": {"domain": [-0.8125, 229.4375], "nice": false, "zero": false}, "axis": null},
  "y": {"field": "cy", "type": "quantitative", "scale": {"domain": [191.18, 192.0], "nice": false, "zero": false}, "axis": null}}},
{"data": {"name": "bars"}, "mark": {"type": "line", "color": "#ff6347", "strokeWidth": 3, "clip": true},
 "encoding": {"x": {"field": "i", "type": "quantitative", "scale": {"domain": [-0.8125, 229.4375], "nice": false, "zero": false}, "axis": null},
  "y": {"field": "sa", "type": "quantitative", "scale": {"domain": [191.18, 192.0], "nice": false, "zero": false}, "axis": null}}},
{"data": {"name": "arrows"}, "mark": {"type": "point", "shape": "M-0.22,-1.12L0.22,-1.12L0.22,0.3L0.82,-0.28L1,0.08L0,1.12L-1,0.08L-0.82,-0.28L-0.22,0.3Z", "size": 289, "filled": true, "color": "#dc143c", "opacity": 1},
 "encoding": {"x": {"field": "i", "type": "quantitative", "scale": {"domain": [-0.8125, 229.4375], "nice": false, "zero": false}, "axis": null},
  "y": {"field": "p", "type": "quantitative", "scale": {"domain": [191.18, 192.0], "nice": false, "zero": false}, "axis": null}}},
{"data": {"values": [{"t": "GBPJPY,M5\u00a0 191.228 191.235 191.228 191.231"}]}, "mark": {"type": "text", "align": "left", "baseline": "alphabetic", "font": "Liberation Sans", "fontSize": 12.3, "color": "#ffffff"},
 "encoding": {"x": {"datum": -0.4375, "type": "quantitative", "scale": {"domain": [-0.8125, 229.4375], "nice": false, "zero": false}, "axis": null},
  "y": {"datum": 191.983, "type": "quantitative", "scale": {"domain": [191.18, 192.0], "nice": false, "zero": false}, "axis": null}, "text": {"field": "t"}}},
{"data": {"values": [{"t": "KIKOS"}]}, "mark": {"type": "text", "align": "left", "baseline": "alphabetic", "font": "Liberation Sans", "fontSize": 12.3, "color": "#ffffff"},
 "encoding": {"x": {"datum": -0.4375, "type": "quantitative", "scale": {"domain": [-0.8125, 229.4375], "nice": false, "zero": false}, "axis": null},
  "y": {"datum": 191.972, "type": "quantitative", "scale": {"domain": [191.18, 192.0], "nice": false, "zero": false}, "axis": null}, "text": {"field": "t"}}},
{"data": {"values": [{"t": "Label"}]}, "mark": {"type": "text", "align": "left", "baseline": "alphabetic", "font": "Liberation Sans", "fontSize": 16.5, "color": "#8f8f8f"},
 "encoding": {"x": {"datum": 23.9375, "type": "quantitative", "scale": {"domain": [-0.8125, 229.4375], "nice": false, "zero": false}, "axis": null},
  "y": {"datum": 191.933, "type": "quantitative", "scale": {"domain": [191.18, 192.0], "nice": false, "zero": false}, "axis": null}, "text": {"field": "t"}}},
{"data": {"values": [{"t": "Próxima Vela: 00:01"}]}, "mark": {"type": "text", "align": "right", "baseline": "alphabetic", "font": "Liberation Sans", "fontSize": 17, "color": "#87bde8"},
 "encoding": {"x": {"datum": 228.5625, "type": "quantitative", "scale": {"domain": [-0.8125, 229.4375], "nice": false, "zero": false}, "axis": null},
  "y": {"datum": 191.977, "type": "quantitative", "scale": {"domain": [191.18, 192.0], "nice": false, "zero": false}, "axis": null}, "text": {"field": "t"}}},
{"data": {"values": [{"t": "www.PerfectTrendSystem.com"}]}, "mark": {"type": "text", "align": "left", "baseline": "alphabetic", "font": "Liberation Sans", "fontSize": 22, "color": "#333333"},
 "encoding": {"x": {"datum": 0.1875, "type": "quantitative", "scale": {"domain": [-0.8125, 229.4375], "nice": false, "zero": false}, "axis": null},
  "y": {"datum": 191.174, "type": "quantitative", "scale": {"domain": [191.18, 192.0], "nice": false, "zero": false}, "axis": null}, "text": {"field": "t"}}}
]
}
